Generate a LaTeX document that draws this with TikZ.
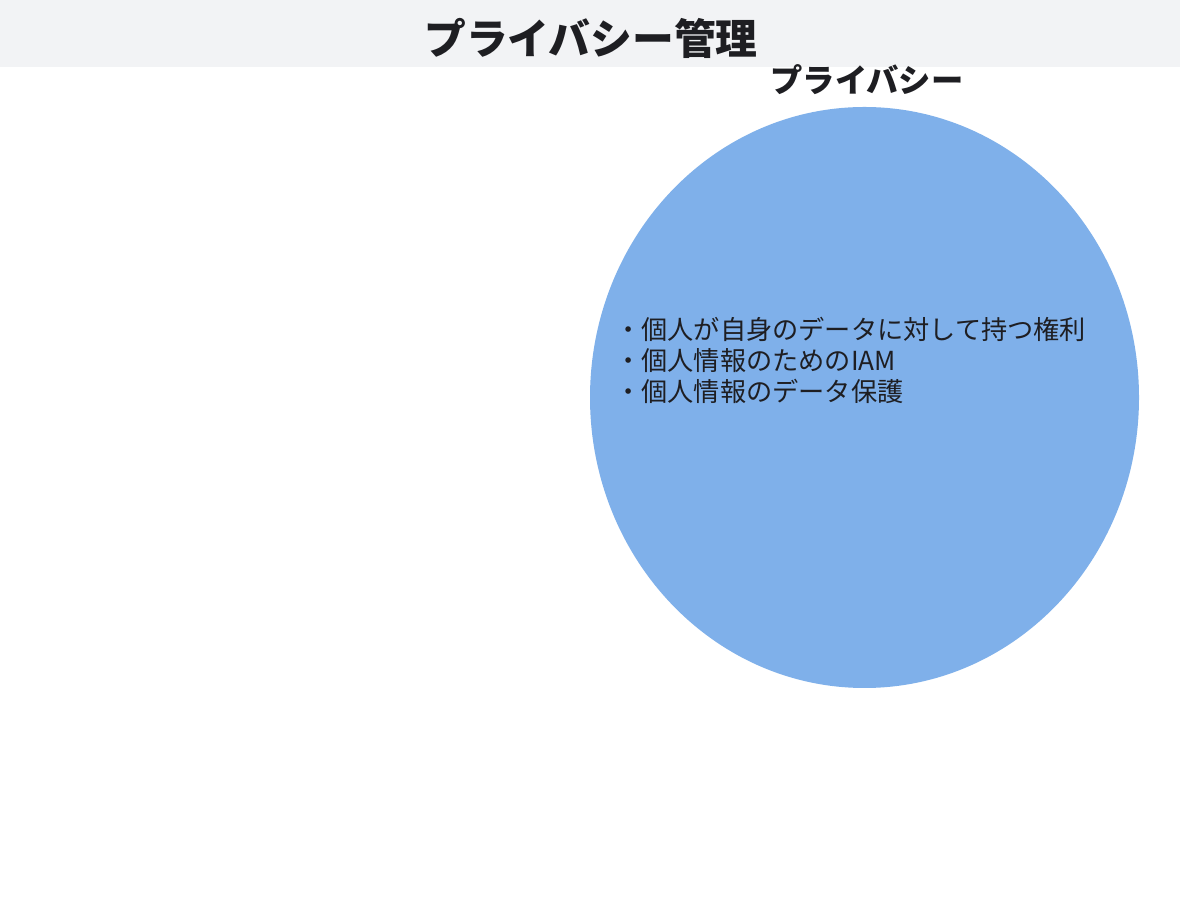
\documentclass[tikz,border=0pt]{standalone}
\usepackage{fontspec}
\newfontfamily\jp{Noto Sans CJK JP}
\definecolor{headgray}{HTML}{F2F3F5}
\definecolor{privblue}{RGB}{127,176,234}
\definecolor{inkdark}{HTML}{1E1E22}
\tikzset{
    headtext/.style={font=\jp\bfseries\fontsize{41.8}{48}\selectfont, text=inkdark, inner sep=0pt},
    settitle/.style={font=\jp\bfseries\fontsize{32.3}{38}\selectfont, text=inkdark, inner sep=0pt},
    setbody/.style={font=\jp\fontsize{26.2}{31}\selectfont, text=inkdark, align=left, inner sep=0pt}
}
\begin{document}
\begin{tikzpicture}[x=1pt,y=1pt]
    % Canvas and header band
    \useasboundingbox (0,0) rectangle (1180,912);
    \fill[white] (0,0) rectangle (1180,912);
    \fill[headgray] (0,845) rectangle (1180,912);
    \node[headtext] (title) at (591,874) {プライバシー管理};
    % Privacy set
    \fill[privblue] (864.5,514.5) ellipse [x radius=274.5, y radius=290.5];
    \node[settitle] (privlabel) at (867,832) {プライバシー};
    \node[setbody, anchor=west] (privitems) at (615,552) {・個人が自身のデータに対して持つ権利\\
        ・個人情報のためのIAM\\
        ・個人情報のデータ保護};
\end{tikzpicture}
\end{document}
